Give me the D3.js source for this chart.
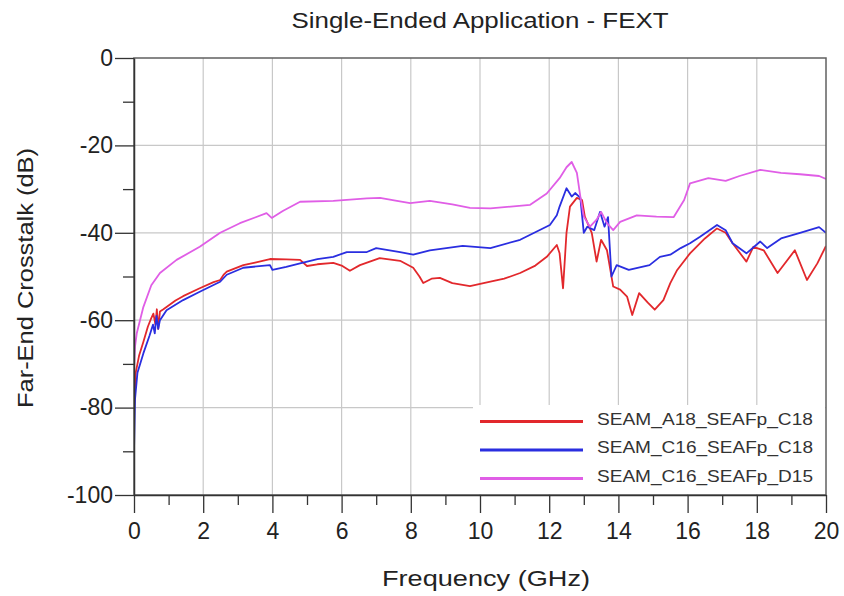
<!DOCTYPE html>
<html><head><meta charset="utf-8">
<script src="https://cdn.jsdelivr.net/npm/d3@7"></script>
<style>body{margin:0;background:#fff}svg{display:block}text{font-family:"Liberation Sans",Arial,sans-serif}</style>
</head><body><svg id="c" width="844" height="596"></svg>
<script>
const seriesNames = ["SEAM_A18_SEAFp_C18","SEAM_C16_SEAFp_C18","SEAM_C16_SEAFp_D15"];
const seriesColors = ["#e2282c","#2a2ee0","#e05ee6"];
const xTicks = [0,2,4,6,8,10,12,14,16,18,20];
const yTicks = [0,-20,-40,-60,-80,-100];
const redA18 = [[0,-80],[0.05,-72],[0.15,-68],[0.27,-65],[0.4,-61.5],[0.5,-59.5],[0.56,-58.5],[0.62,-61],[0.66,-57.5],[0.7,-62],[0.75,-58],[0.85,-57.5],[0.94,-57],[1.2,-55.5],[1.42,-54.5],[1.9,-52.7],[2.3,-51.3],[2.49,-50.8],[2.6,-49.5],[2.68,-48.9],[3.16,-47.4],[3.5,-46.8],[3.93,-46],[4.4,-46.1],[4.8,-46.2],[5,-47.6],[5.3,-47.2],[5.76,-46.9],[6.0,-47.5],[6.24,-48.7],[6.53,-47.4],[7.1,-45.8],[7.69,-46.4],[8.07,-48],[8.25,-50],[8.36,-51.5],[8.6,-50.5],[8.84,-50.3],[9.2,-51.5],[9.71,-52.2],[10.3,-51.2],[10.7,-50.5],[11.16,-49.2],[11.6,-47.5],[11.93,-45.5],[12.22,-42.8],[12.3,-44.7],[12.4,-52.7],[12.5,-40],[12.6,-34],[12.8,-32],[12.95,-32.5],[13.03,-36.3],[13.23,-40],[13.37,-46.6],[13.5,-41.6],[13.67,-44],[13.85,-52.3],[14.05,-53],[14.25,-54.6],[14.4,-58.8],[14.6,-53.8],[14.85,-56],[15.05,-57.6],[15.3,-55.4],[15.5,-51.5],[15.7,-48.5],[16.07,-44.7],[16.5,-41.3],[16.85,-39],[17.1,-40],[17.3,-42.4],[17.7,-46.6],[17.9,-43.2],[18.2,-44],[18.6,-49.2],[19.1,-44],[19.45,-50.8],[19.75,-47],[20,-43]];
const blueC18 = [[0,-90],[0.03,-78],[0.1,-72],[0.27,-67.6],[0.45,-63.5],[0.55,-61],[0.6,-63],[0.65,-59],[0.7,-62],[0.75,-60],[0.94,-57.7],[1.42,-55.4],[1.9,-53.5],[2.49,-51.2],[2.68,-49.6],[3.16,-48],[3.93,-47.4],[4.0,-48.5],[4.4,-47.8],[4.8,-47],[5.3,-46],[5.76,-45.5],[6.15,-44.4],[6.73,-44.4],[7.0,-43.5],[7.69,-44.4],[8.07,-45],[8.55,-44],[9.5,-43],[10.3,-43.5],[11.16,-41.6],[12.02,-38.2],[12.22,-36],[12.3,-34],[12.5,-29.8],[12.65,-31.7],[12.75,-30.9],[12.9,-32],[13,-40],[13.1,-38.6],[13.3,-39.4],[13.47,-35.2],[13.6,-38.6],[13.7,-36.4],[13.8,-50],[13.95,-47.4],[14.3,-48.5],[14.9,-47.4],[15.2,-45.5],[15.5,-45],[15.8,-43.5],[16.07,-42.4],[16.36,-40.9],[16.85,-38.2],[17.1,-39.4],[17.3,-42.4],[17.7,-44.7],[18.1,-42],[18.3,-43.5],[18.7,-41.3],[19.25,-40],[19.8,-38.7],[20,-40]];
const magentaD15 = [[0,-71],[0.03,-66],[0.08,-63],[0.27,-57],[0.5,-52],[0.75,-49.2],[1.23,-46.2],[1.9,-43.2],[2.49,-40],[3.06,-37.8],[3.83,-35.5],[3.98,-36.6],[4.3,-35],[4.8,-32.9],[5.76,-32.7],[6.73,-32.1],[7.11,-32],[7.6,-32.7],[7.98,-33.2],[8.55,-32.7],[9.2,-33.5],[9.71,-34.3],[10.3,-34.4],[11.45,-33.6],[11.93,-31],[12.3,-27.5],[12.5,-25],[12.65,-23.8],[12.8,-26.3],[12.9,-31.7],[13,-36.3],[13.18,-38.6],[13.37,-37],[13.5,-35.2],[13.67,-37.8],[13.85,-39.4],[14.05,-37.5],[14.53,-36],[15.1,-36.3],[15.6,-36.4],[15.9,-32.5],[16.07,-28.7],[16.6,-27.5],[17.1,-28.1],[17.5,-27],[18.1,-25.6],[18.7,-26.3],[19.25,-26.6],[19.8,-27],[20,-27.7]];
const seriesData = [redA18, blueC18, magentaD15];

const svg = d3.select("#c");
const L=134,R=826,T=58,B=495;
const x = d3.scaleLinear().domain([0,20]).range([L,R]);
const y = d3.scaleLinear().domain([-100,0]).range([B,T]);
const fmt = d => String(d);

// grid
svg.append("g").selectAll("line").data(xTicks.slice(1,-1)).join("line")
  .attr("x1",d=>x(d)).attr("x2",d=>x(d)).attr("y1",T).attr("y2",B)
  .attr("stroke","#c8c8c8").attr("stroke-width",1.2);
svg.append("g").selectAll("line").data(yTicks.slice(1,-1)).join("line")
  .attr("x1",L).attr("x2",R).attr("y1",d=>y(d)).attr("y2",d=>y(d))
  .attr("stroke","#c8c8c8").attr("stroke-width",1.2);

svg.append("defs").append("clipPath").attr("id","clip").append("rect")
  .attr("x",L).attr("y",T).attr("width",R-L).attr("height",B-T);

const line = d3.line().x(d=>x(d[0])).y(d=>y(d[1]));
const plotG = svg.append("g").attr("clip-path","url(#clip)");
seriesData.forEach((s,i)=>{
  plotG.append("path").datum(s).attr("d",line).attr("fill","none")
    .attr("stroke",seriesColors[i]).attr("stroke-width",1.8).attr("stroke-linejoin","round");
});

// legend
const lg = svg.append("g");
lg.append("rect").attr("x",473).attr("y",405).attr("width",R-473-1).attr("height",B-405-1).attr("fill","#fff");
seriesNames.forEach((n,i)=>{
  const yy = 421.5 + i*28.5;
  lg.append("line").attr("x1",480).attr("x2",583).attr("y1",yy).attr("y2",yy)
    .attr("stroke",seriesColors[i]).attr("stroke-width",3);
  lg.append("text").attr("x",597).attr("y",yy+3).attr("font-size",17).attr("fill","#333")
    .attr("textLength",216).attr("lengthAdjust","spacingAndGlyphs").text(n);
});

// frame
svg.append("rect").attr("x",L).attr("y",T).attr("width",R-L).attr("height",B-T)
  .attr("fill","none").attr("stroke","#606060").attr("stroke-width",1.5);

// axes
const xAxis = d3.axisBottom(x).tickValues(xTicks).tickFormat(fmt).tickSize(18).tickSizeOuter(0).tickPadding(10);
const gx = svg.append("g").attr("transform",`translate(0,${B})`).call(xAxis);
gx.select(".domain").attr("stroke","#333").attr("stroke-width",1.5);
gx.selectAll(".tick line").attr("stroke","#333").attr("stroke-width",1.3);
gx.selectAll("text").attr("font-size",23).attr("fill","#222").style("font-family","Liberation Sans, Arial, sans-serif");
const xMinor = d3.axisBottom(x).tickValues(d3.range(1,20,2)).tickSize(10).tickSizeOuter(0).tickFormat("");
const gxm = svg.append("g").attr("transform",`translate(0,${B})`).call(xMinor);
gxm.select(".domain").remove(); gxm.selectAll(".tick line").attr("stroke","#333").attr("stroke-width",1.3);

const yAxis = d3.axisLeft(y).tickValues(yTicks).tickFormat(fmt).tickSize(19).tickSizeOuter(0).tickPadding(2);
const gy = svg.append("g").attr("transform",`translate(${L},0)`).call(yAxis);
gy.select(".domain").attr("stroke","#333").attr("stroke-width",1.5);
gy.selectAll(".tick line").attr("stroke","#333").attr("stroke-width",1.3);
gy.selectAll("text").attr("font-size",23).attr("fill","#222").style("font-family","Liberation Sans, Arial, sans-serif");
const yMinor = d3.axisLeft(y).tickValues(d3.range(-90,0,20)).tickSize(11).tickSizeOuter(0).tickFormat("");
const gym = svg.append("g").attr("transform",`translate(${L},0)`).call(yMinor);
gym.select(".domain").remove(); gym.selectAll(".tick line").attr("stroke","#333").attr("stroke-width",1.3);

// titles
svg.append("text").attr("x",480).attr("y",28).attr("text-anchor","middle").attr("font-size",22).attr("fill","#222")
  .attr("textLength",377).attr("lengthAdjust","spacingAndGlyphs").text("Single-Ended Application - FEXT");
svg.append("text").attr("x",486).attr("y",586).attr("text-anchor","middle").attr("font-size",22).attr("fill","#222")
  .attr("textLength",208).attr("lengthAdjust","spacingAndGlyphs").text("Frequency (GHz)");
svg.append("text").attr("transform","translate(33,278) rotate(-90)").attr("text-anchor","middle").attr("font-size",22).attr("fill","#222")
  .attr("textLength",260).attr("lengthAdjust","spacingAndGlyphs").text("Far-End Crosstalk (dB)");
</script></body></html>
